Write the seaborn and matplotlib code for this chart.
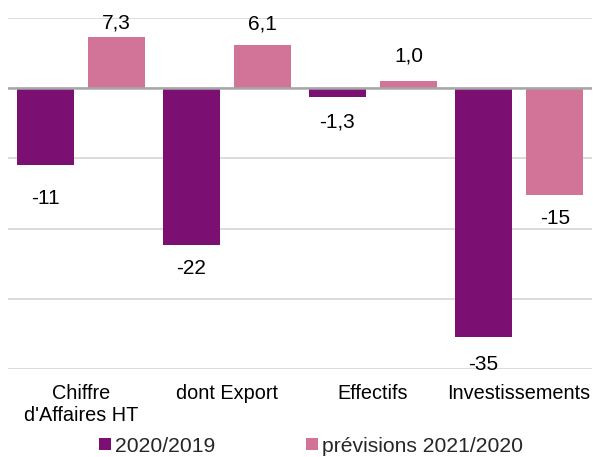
import matplotlib
matplotlib.use("Agg")
import matplotlib.pyplot as plt
import seaborn as sns
import pandas as pd
from matplotlib.patches import Patch

categories = ["Chiffre\nd'Affaires HT", "dont Export", "Effectifs", "Investissements"]
series_names = ["2020/2019", "prévisions 2021/2020"]
values_2020 = [-11.0, -22.3, -1.3, -35.4]
values_2021 = [7.3, 6.1, 1.0, -15.2]
colors = ["#7B1072", "#D27498"]

# label offsets from bar ends (points), mimicking the reference placement
label_pad_2020 = [17, 10.5, 11, 13.5]
label_pad_2021 = [3.5, 8.5, 11, 10]

df = pd.DataFrame({
    "cat": categories * 2,
    "serie": [series_names[0]] * 4 + [series_names[1]] * 4,
    "val": values_2020 + values_2021,
})

def fmt(v):
    if abs(v) >= 10:
        return f"{v:.0f}"
    return f"{v:.1f}".replace(".", ",")

sns.set_style("white")
plt.rcParams["font.family"] = ["Liberation Sans", "DejaVu Sans"]

fig = plt.figure(figsize=(5.93, 4.57), dpi=100)
ax = fig.add_axes([8/593, 1-369/457, 584/593, 351/457])

sns.barplot(data=df, x="cat", y="val", hue="serie", hue_order=series_names,
            order=categories, palette=colors, width=0.98, gap=0.2,
            saturation=1, errorbar=None, legend=False, ax=ax, zorder=3,
            linewidth=0)

ax.set_ylim(-40, 10)
ax.set_xlim(-0.5, 3.5)
ax.set_yticks([-40, -30, -20, -10, 0, 10])
ax.yaxis.grid(True, color="#D9D9D9", linewidth=1.3, zorder=0)
ax.axhline(0, color="#A6A6A6", linewidth=1.8, zorder=4)
ax.set_yticklabels([])
ax.tick_params(axis="y", length=0)
ax.tick_params(axis="x", length=0, pad=11, labelsize=14.3, labelcolor="#000000")
ax.set_xlabel("")
ax.set_ylabel("")
for s in ax.spines.values():
    s.set_visible(False)

for cont, vals, pads in zip(ax.containers, [values_2020, values_2021],
                            [label_pad_2020, label_pad_2021]):
    for bar, v, p in zip(cont, vals, pads):
        x = bar.get_x() + bar.get_width() / 2
        ax.annotate(fmt(v), (x, v), xytext=(0, p if v > 0 else -p),
                    textcoords="offset points", ha="center",
                    va="bottom" if v > 0 else "top",
                    fontsize=15, color="#000000", annotation_clip=False)

handles = [Patch(facecolor=c, edgecolor="none") for c in colors]
fig.legend(handles, series_names, loc="center", bbox_to_anchor=(0.5245, 1-446/457),
           ncol=2, frameon=False, fontsize=15.2, handlelength=0.55, handleheight=0.55,
           handletextpad=0.2, columnspacing=4.3, borderpad=0, borderaxespad=0)

fig.savefig("out.png", dpi=100)
